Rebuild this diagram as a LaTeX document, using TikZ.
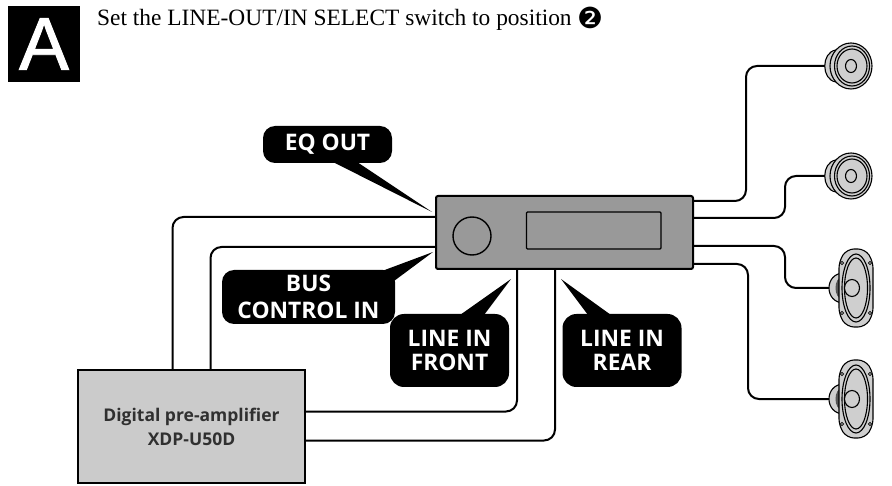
\documentclass[tikz,border=0pt]{standalone}
\usepackage{fontspec}
\setmainfont{Liberation Serif}
\newfontfamily\lbl{Open Sans}[BoldFont={Open Sans Bold}]
\newfontfamily\dingb{DejaVu Sans}
\newfontfamily\bigA{Liberation Sans}[FakeBold=1.2]
\definecolor{mainfill}{HTML}{999999}
\definecolor{prefill}{HTML}{CBCBCB}
\definecolor{spk}{HTML}{CFCFCF}
\definecolor{spkdark}{HTML}{555555}
\definecolor{blk}{HTML}{000000}
\definecolor{pretext}{HTML}{303030}
\tikzset{
  wire/.style={draw=blk,line width=2pt,rounded corners=11pt},
  callout/.style={fill=blk,draw=none},
  calltext/.style={text=white,font=\lbl\bfseries\fontsize{22.8}{24}\selectfont,align=center,inner sep=0pt},
  spkline/.style={draw=blk,line width=1.1pt},
  roundspk/.pic={
    \path[spkline,fill=spk] (-15,-16) .. controls (-30,-14) and (-30,14) .. (-15,16) -- cycle;
    \path[draw=none,fill=spkdark] (-16,-14) .. controls (-23,-10) and (-23,10) .. (-16,14) -- cycle;
    \path[spkline,fill=spk] (0,0) ellipse[x radius=21,y radius=23];
    \path[spkline,fill=spk] (1,0) ellipse[x radius=17.5,y radius=20];
    \path[spkline,fill=spk] (1,0) ellipse[x radius=15,y radius=17];
    \path[spkline,fill=spk] (0,0) ellipse[x radius=5.5,y radius=6.5];
  },
  ovalspk/.pic={
    \path[spkline,fill=spk] (-12,-15) .. controls (-32,-15) and (-32,15) .. (-12,15) -- cycle;
    \path[draw=none,fill=spkdark] (-13,-12) .. controls (-23,-10) and (-23,10) .. (-13,12) -- cycle;
    \path[spkline,fill=spk,rounded corners=7pt] (-17,-27) -- (-9,-39) -- (9,-39) -- (17,-27) -- (17,27) -- (9,39) -- (-9,39) -- (-17,27) -- cycle;
    \path[spkline,fill=spk] (0,0) ellipse[x radius=14,y radius=34];
    \path[spkline,fill=spk] (0,0) ellipse[x radius=11.5,y radius=30];
    \path[spkline,fill=spk] (-4,0) ellipse[x radius=7.5,y radius=8.5];
    \foreach \a/\b in {-14/-25,14/-25,-14/25,14/25}{\path[draw=blk,line width=.7pt,fill=spk] (\a,\b) circle[radius=1.6];}
  }
}
\begin{document}
\begin{tikzpicture}[x=1pt,y=-1pt]
\useasboundingbox (0,0) rectangle (892,486);
% heading
\node[fill=blk,minimum width=72pt,minimum height=76pt,inner sep=0pt,text=white,font=\bigA\fontsize{75}{75}\selectfont] (badge) at (44,44) {A};
\node[anchor=base west,inner sep=0pt,font=\fontsize{23.4}{26}\selectfont] (title) at (97,26) {Set the LINE-OUT/IN SELECT switch to position {\dingb\fontsize{29}{29}\selectfont\raisebox{-3pt}{❷}}};
% equipment
\node[draw=blk,line width=2pt,fill=mainfill,rounded corners=2pt,minimum width=257pt,minimum height=73pt,inner sep=0pt] (main) at (564.5,232.5) {};
\node[draw=blk,line width=1.4pt,rounded corners=1pt,minimum width=134.5pt,minimum height=37pt,inner sep=0pt] (display) at (593.75,230.5) {};
\node[draw=blk,line width=1.4pt,circle,minimum size=38pt,inner sep=0pt] (knob) at (472,236) {};
\node[draw=blk,line width=2pt,fill=prefill,minimum width=227pt,minimum height=113pt,inner sep=0pt,text=pretext,font=\lbl\bfseries\fontsize{17.5}{24}\selectfont,align=center] (pre) at (191.5,426.5) {Digital pre-amplifier\\XDP-U50D};
% speakers (reference points)
\coordinate (sp1) at (851,66);
\coordinate (sp2) at (851,176);
\coordinate (sp3) at (856,288);
\coordinate (sp4) at (856,399);
% wires
\draw[wire] (main.west |- 0,217) -| (pre.north -| 172.5,0);
\draw[wire] (main.west |- 0,247) -| (pre.north -| 210.5,0);
\draw[wire] (main.south -| 517,0) |- (pre.east |- 0,411.5);
\draw[wire] (main.south -| 555,0) |- (pre.east |- 0,440.5);
\draw[wire] (main.east |- 0,201) -| (746,66) -- (sp1);
\draw[wire] (main.east |- 0,218) -| (785,176) -- (sp2);
\draw[wire] (main.east |- 0,246) -| (785,288) -- (sp3);
\draw[wire] (main.east |- 0,264) -| (748,399) -- (sp4);
% speakers
\pic at (sp1) {roundspk};
\pic at (sp2) {roundspk};
\pic at (sp3) {ovalspk};
\pic at (sp4) {ovalspk};
% callouts
\fill[callout] (333,162) -- (432,212) -- (357,162) -- cycle;
\node[callout,rounded corners=12pt,minimum width=129pt,minimum height=37pt,inner sep=0pt] (eqbox) at (327.5,144.5) {};
\node[calltext] (eq) at (eqbox) {EQ OUT};
\fill[callout] (382,271) -- (433,252) -- (394,281) -- cycle;
\node[callout,rounded corners=12pt,minimum width=173pt,minimum height=54pt,inner sep=0pt] (busbox) at (308.5,297) {};
\node[calltext,font=\lbl\bfseries\fontsize{22.8}{26.5}\selectfont] (bus) at (busbox) {BUS\\CONTROL IN};
\fill[callout] (460,315) -- (511,279) -- (484,315) -- cycle;
\node[callout,rounded corners=14pt,minimum width=119pt,minimum height=73pt,inner sep=0pt] (frontbox) at (449.5,350.5) {};
\node[calltext] (front) at (frontbox) {LINE IN\\FRONT};
\fill[callout] (588,315) -- (561,279) -- (611,315) -- cycle;
\node[callout,rounded corners=14pt,minimum width=119pt,minimum height=73pt,inner sep=0pt] (rearbox) at (622,350.5) {};
\node[calltext] (rear) at (rearbox) {LINE IN\\REAR};
\end{tikzpicture}
\end{document}
